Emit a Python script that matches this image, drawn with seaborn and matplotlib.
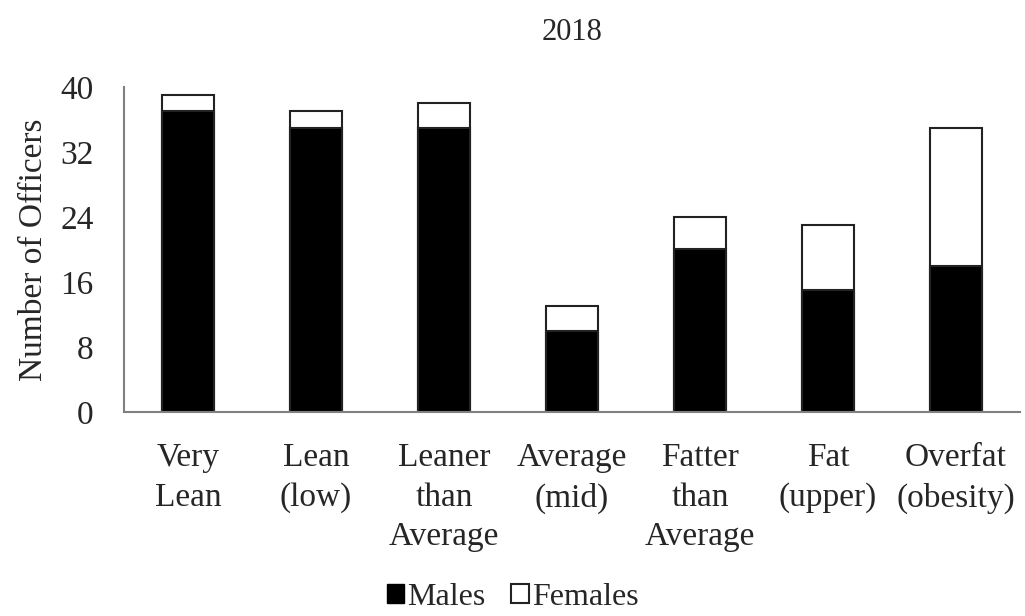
import matplotlib.pyplot as plt
import seaborn as sns
import pandas as pd
from matplotlib.patches import Patch

sns.set_style("white")
plt.rcParams['font.family'] = ['Liberation Serif', 'DejaVu Serif']

categories = ["Very\nLean", "Lean\n(low)", "Leaner\nthan\nAverage", "Average\n(mid)",
              "Fatter\nthan\nAverage", "Fat\n(upper)", "Overfat\n(obesity)"]
males = [37, 35, 35, 10, 20, 15, 18]
females = [2, 2, 3, 3, 4, 8, 17]

df = pd.DataFrame({'Category': categories, 'Males': males, 'Females': females})
df['Total'] = df['Males'] + df['Females']

fig = plt.figure(figsize=(10.25, 6.16), dpi=100)
ax = fig.add_axes([0.121, 0.331, 0.874, 0.528])

sns.barplot(x='Category', y='Total', data=df, color='white', edgecolor='#222222',
            linewidth=1.5, width=0.41, ax=ax)
sns.barplot(x='Category', y='Males', data=df, color='black', edgecolor='#222222',
            linewidth=1.5, width=0.41, ax=ax)

ax.set_ylim(0, 40)
ax.set_xlim(-0.5, 6.5)
ax.set_yticks([0, 8, 16, 24, 32, 40])
ax.set_xlabel("")
ax.set_ylabel("Number of Officers", fontsize=24, labelpad=8)
ax.set_title("2018", fontsize=22, pad=34)

ax.tick_params(axis='y', length=0, labelsize=24, pad=22)
ax.tick_params(axis='x', length=0, labelsize=24, pad=22)
plt.setp(ax.get_xticklabels(), linespacing=1.38)

sns.despine(ax=ax)
for s in ['left', 'bottom']:
    ax.spines[s].set_color('#808080')
    ax.spines[s].set_linewidth(1.5)

handles = [Patch(facecolor='black', edgecolor='black', label='Males'),
           Patch(facecolor='white', edgecolor='#222222', linewidth=1.5, label='Females')]
fig.legend(handles=handles, loc='lower center', bbox_to_anchor=(0.5, -0.04), ncol=2,
           frameon=False, fontsize=23, handlelength=0.55, handleheight=0.55,
           handletextpad=0.1, columnspacing=0.8)

plt.savefig("out.png", dpi=100)
